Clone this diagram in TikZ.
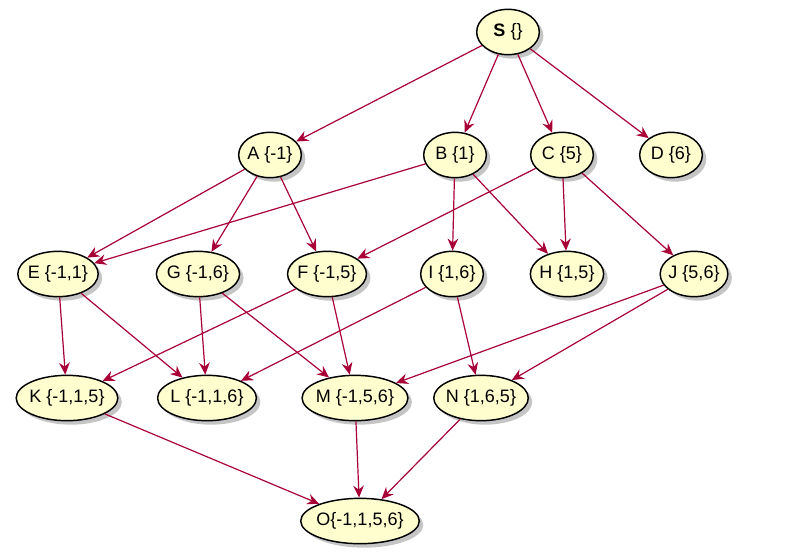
\documentclass[tikz,border=0pt]{standalone}
\usepackage{fontspec}
\setmainfont{Liberation Sans}
\usetikzlibrary{arrows.meta}
\usetikzlibrary{shapes.geometric}
\usetikzlibrary{shadows}
\definecolor{edgered}{HTML}{A80036}
\definecolor{nodefill}{HTML}{FEFECE}

\begin{document}
\begin{tikzpicture} [x=0.75pt, y=-0.75pt,
  state/.style={ellipse, draw=black, line width=1.1pt, fill=nodefill, inner xsep=-1.2pt, inner ysep=0pt,
    minimum height=34pt, minimum width=47pt, font=\fontsize{13.5}{15}\selectfont,
    drop shadow={shadow xshift=3pt, shadow yshift=-3pt, fill=black!45, opacity=0.5}},
  edge/.style={draw=edgered, line width=0.9pt, -{Stealth[length=9pt, width=8pt, inset=3pt]}}]
\useasboundingbox (0,0) rectangle (787,558);
\node[state] (s) at (508,32)  {\textbf{S} \{\}};
\node[state] (a) at (270,155) {A \{-1\}};
\node[state] (b) at (455,155) {B \{1\}};
\node[state] (c) at (562,155) {C \{5\}};
\node[state] (d) at (671,155) {D \{6\}};
\node[state] (e) at (58,274)  {E \{-1,1\}};
\node[state] (g) at (198,274) {G \{-1,6\}};
\node[state] (f) at (327,274) {F \{-1,5\}};
\node[state] (i) at (452,274) {I \{1,6\}};
\node[state] (h) at (567,274) {H \{1,5\}};
\node[state] (j) at (694,274) {J \{5,6\}};
\node[state] (k) at (67,398)  {K \{-1,1,5\}};
\node[state] (l) at (207,398) {L \{-1,1,6\}};
\node[state] (m) at (355,398) {M \{-1,5,6\}};
\node[state] (n) at (481,398) {N \{1,6,5\}};
\node[state] (o) at (360,521) {O\{-1,1,5,6\}};
\foreach \p/\q in {s/a, s/b, s/c, s/d, a/e, a/g, a/f, b/e, b/i, b/h, c/f, c/h, c/j,
  e/k, e/l, g/l, g/m, f/k, f/m, i/l, i/n, j/m, j/n, k/o, m/o, n/o} {
 \draw[edge] (\p) -- (\q);
}
\end{tikzpicture}
\end{document}
